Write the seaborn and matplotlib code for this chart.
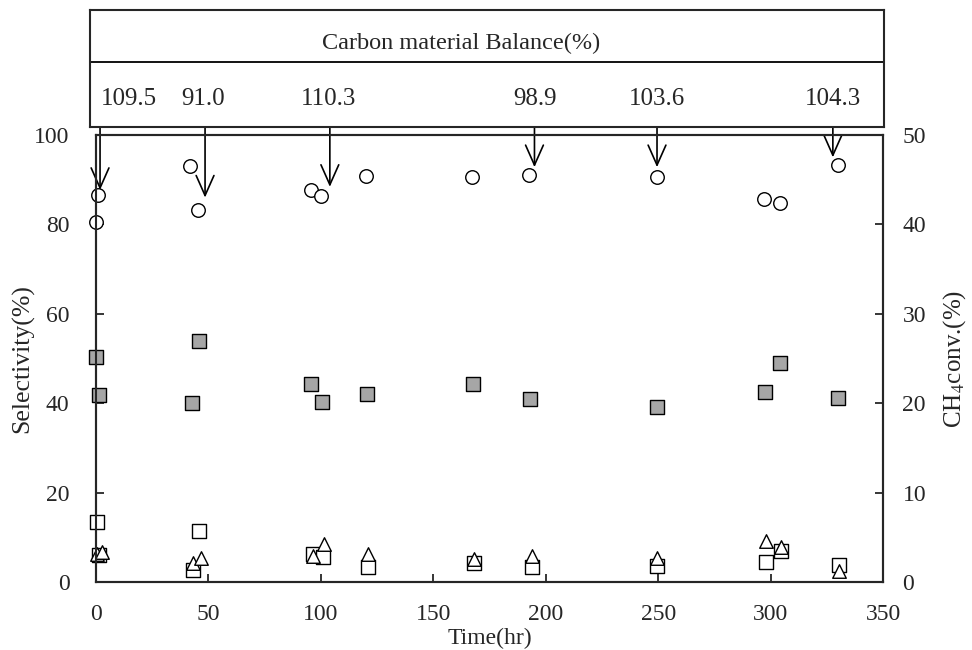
import matplotlib
matplotlib.use("Agg")
import matplotlib.pyplot as plt
import matplotlib.transforms as mtransforms
import seaborn as sns
import numpy as np
import pandas as pd

# ---- data ----
t_circle = [0, 1, 42, 45.5, 95.6, 100, 120, 167.3, 192.7, 249.3, 297.2, 304.1, 329.8]
v_circle = [80.5, 86.6, 93.1, 83.2, 87.7, 86.4, 90.8, 90.5, 91.0, 90.5, 85.7, 84.7, 93.4]

t_fsq = [0, 1.5, 42.8, 45.8, 95.6, 100.3, 120.3, 167.8, 193, 249.3, 297.5, 304.1, 329.8]
v_fsq = [50.4, 41.8, 40.0, 54.0, 44.3, 40.2, 42.1, 44.3, 40.9, 39.2, 42.4, 48.9, 41.1]

t_osq = [0.3, 1.5, 43.3, 45.9, 96.3, 101, 121, 168.2, 193.7, 249.7, 298, 304.6, 330.5]
v_osq = [13.5, 6.0, 2.7, 11.5, 6.3, 5.5, 3.3, 4.3, 3.3, 3.6, 4.5, 7.0, 3.8]

t_tri = [0.3, 2.8, 43.3, 46.7, 96.6, 101.4, 121, 168.2, 193.7, 249.7, 297.9, 304.6, 330.5]
v_tri = [6.3, 6.8, 4.2, 5.3, 5.9, 8.5, 6.3, 5.1, 5.8, 5.3, 9.2, 7.9, 2.5]

balance_labels = ["109.5", "91.0", "110.3", "98.9", "103.6", "104.3"]
balance_time = [1.8, 48.5, 104, 195, 249.5, 327.7]
balance_tip = [87.7, 86.0, 88.4, 92.8, 92.8, 95.0]

x_ticks = [0, 50, 100, 150, 200, 250, 300, 350]
y_ticks = [0, 20, 40, 60, 80, 100]
y2_ticks = [0, 10, 20, 30, 40, 50]

# ---- style ----
sns.set_style("ticks")
plt.rcParams['font.family'] = ['Liberation Serif', 'DejaVu Serif']
plt.rcParams['mathtext.fontset'] = 'stix'

fig = plt.figure(figsize=(9.72, 6.5), dpi=100)
W, H = 972, 650
ax = fig.add_axes([96 / W, 1 - 582 / H, (883 - 96) / W, (582 - 135) / H])

common = dict(ax=ax, s=95, linewidth=1.0, edgecolor='black', zorder=3,
              legend=False, clip_on=False)
sns.scatterplot(x=t_circle, y=v_circle, marker='o', color='white', **common)
sns.scatterplot(x=t_osq, y=v_osq, marker='s', color='white', **common)
sns.scatterplot(x=t_tri, y=v_tri, marker='^', color='white', **common)
sns.scatterplot(x=t_fsq, y=v_fsq, marker='s', color='#a6a6a6', **common)

ax.set_xlim(0, 350)
ax.set_ylim(0, 100)
ax.set_xticks(x_ticks)
ax.set_yticks(y_ticks)
ax.tick_params(direction='in', length=6, width=1.3, labelsize=17)
ax.tick_params(axis='y', pad=19)
ax.tick_params(axis='x', pad=16)
for sp in ax.spines.values():
    sp.set_linewidth(1.5)
ax.set_xlabel("Time(hr)", fontsize=17, labelpad=2)
ax.set_ylabel("Selectivity(%)", fontsize=18.5, labelpad=0)

ax2 = ax.twinx()
ax2.set_ylim(0, 50)
ax2.set_yticks(y2_ticks)
ax2.tick_params(direction='in', length=6, width=1.3, labelsize=17, pad=14)
ax2.set_ylabel("CH$_4$conv.(%)", fontsize=18, labelpad=11)
for sp in ax2.spines.values():
    sp.set_linewidth(1.5)

# ---- top balance box ----
box = fig.add_axes([90 / W, 1 - 127 / H, (884 - 90) / W, (127 - 10) / H])
box.set_xticks([])
box.set_yticks([])
for sp in box.spines.values():
    sp.set_linewidth(1.5)
box.axhline((127 - 62) / (127 - 10), color='black', lw=1.3)
box.text(0.468, (127 - 43) / (127 - 10), "Carbon material Balance(%)",
         ha='center', va='center', fontsize=17.5, transform=box.transAxes)

trans = mtransforms.blended_transform_factory(ax.transData, fig.transFigure)
label_x = [14.5, 47.6, 103.2, 195.2, 249.4, 327.7]
for lab, lx, bt, tip in zip(balance_labels, label_x, balance_time, balance_tip):
    fig.text(lx, 1 - 99 / H, lab, ha='center', va='center', fontsize=18,
             transform=trans)
    ax.annotate("", xy=(bt, tip), xycoords='data',
                xytext=(bt, 1 - 113 / H), textcoords=('data', 'figure fraction'),
                arrowprops=dict(arrowstyle='->,head_length=0.9,head_width=0.4',
                                color='black', lw=1.2, mutation_scale=16,
                                shrinkA=0, shrinkB=0),
                annotation_clip=False, zorder=4)

fig.savefig("out.png", dpi=100)
